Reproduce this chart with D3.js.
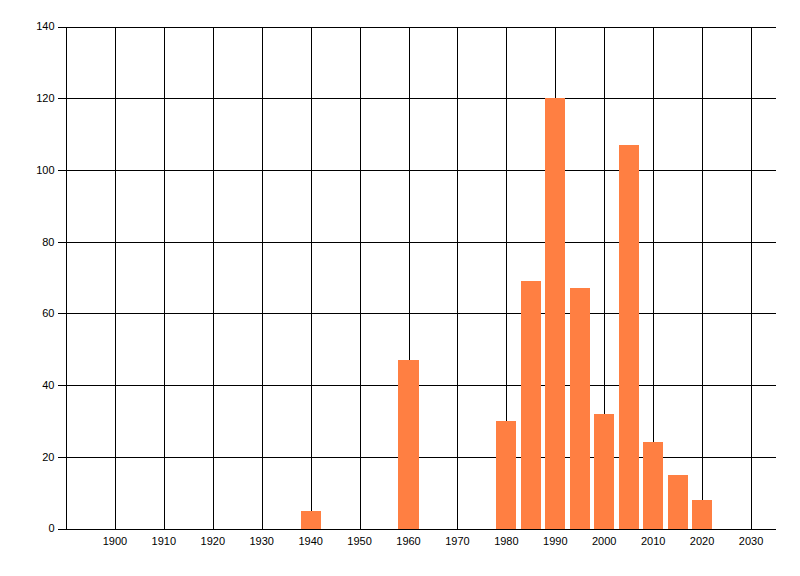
<!DOCTYPE html>
<html>
<head>
<meta charset="utf-8">
<script src="https://cdn.jsdelivr.net/npm/d3@7"></script>
<style>
  html, body { margin: 0; padding: 0; background: #fff; }
  svg { display: block; }
  text { font-family: "Liberation Sans", Arial, sans-serif; font-size: 11px; fill: #000; }
</style>
</head>
<body>
<svg id="chart" width="800" height="576"></svg>
<script>
// Data
const years = [1940, 1960, 1980, 1985, 1990, 1995, 2000, 2005, 2010, 2015, 2020];
const counts = [5, 47, 30, 69, 120, 67, 32, 107, 24, 15, 8];
const xTicks = [1900, 1910, 1920, 1930, 1940, 1950, 1960, 1970, 1980, 1990, 2000, 2010, 2020, 2030];
const yTicks = [0, 20, 40, 60, 80, 100, 120, 140];

(function () {
const svg = d3.select("#chart");
const pL = 66, pR = 775.5, pT = 26.5, pB = 528.5;

const x = d3.scaleLinear().domain([1890, 2035]).range([pL, pR]);
const y = d3.scaleLinear().domain([0, 140]).range([pB, pT]);
const barYears = 4.1;

// gridlines
const grid = svg.append("g").attr("stroke", "#000").attr("stroke-width", 1).attr("shape-rendering", "crispEdges");
grid.selectAll("line.h").data(yTicks).join("line")
  .attr("class", "h")
  .attr("x1", pL - 8).attr("x2", pR)
  .attr("y1", d => Math.round(y(d)) + 0.5).attr("y2", d => Math.round(y(d)) + 0.5);
grid.selectAll("line.v").data(xTicks).join("line")
  .attr("class", "v")
  .attr("x1", d => Math.round(x(d)) + 0.5).attr("x2", d => Math.round(x(d)) + 0.5)
  .attr("y1", pT).attr("y2", pB);
// left axis line
grid.append("line").attr("x1", pL + 0.5).attr("x2", pL + 0.5).attr("y1", pT).attr("y2", pB);

// bars
svg.append("g").selectAll("rect").data(years.map((yr, i) => ({yr, v: counts[i]}))).join("rect")
  .attr("x", d => x(d.yr - barYears / 2))
  .attr("width", d => x(d.yr + barYears / 2) - x(d.yr - barYears / 2))
  .attr("y", d => y(d.v))
  .attr("height", d => y(0) - y(d.v))
  .attr("fill", "#FF7F42")
  .attr("shape-rendering", "crispEdges");

// redraw x axis baseline on top
svg.append("line").attr("x1", pL - 8).attr("x2", pR)
  .attr("y1", Math.round(y(0)) + 0.5).attr("y2", Math.round(y(0)) + 0.5)
  .attr("stroke", "#000").attr("shape-rendering", "crispEdges");

// y labels
svg.append("g").selectAll("text").data(yTicks).join("text")
  .attr("x", 54.5).attr("y", d => y(d)).attr("dy", "0.36em")
  .attr("text-anchor", "end").text(d => d);

// x labels
svg.append("g").selectAll("text").data(xTicks).join("text")
  .attr("x", d => x(d)).attr("y", 545)
  .attr("text-anchor", "middle").text(d => d);
})();
</script>
</body>
</html>
